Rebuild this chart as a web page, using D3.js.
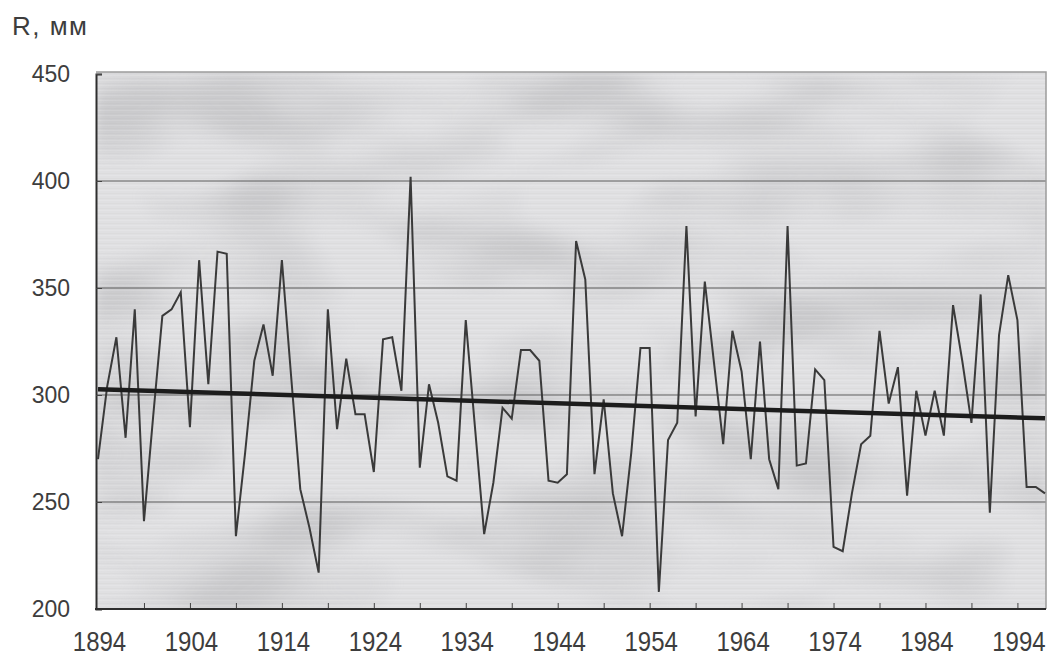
<!DOCTYPE html>
<html>
<head>
<meta charset="utf-8">
<script src="https://cdn.jsdelivr.net/npm/d3@7"></script>
<style>
  html, body { margin: 0; padding: 0; background: #ffffff; }
  svg { display: block; }
  text { font-family: "Liberation Sans", Arial, sans-serif; fill: #3d3d3d; }
</style>
</head>
<body>
<svg id="chart" width="1056" height="661"></svg>
<script>
// Annual precipitation R (mm), 1894–1997
const firstYear = 1894;
const rainfall = [
  270, 304, 327, 280, 340, 241, 290, 337, 340, 348,   // 1894–1903
  285, 363, 305, 367, 366, 234, 273, 316, 333, 309,   // 1904–1913
  363, 309, 256, 238, 217, 340, 284, 317, 291, 291,   // 1914–1923
  264, 326, 327, 302, 402, 266, 305, 287, 262, 260,   // 1924–1933
  335, 285, 235, 259, 294, 289, 321, 321, 316, 260,   // 1934–1943
  259, 263, 372, 354, 263, 298, 254, 234, 273, 322,   // 1944–1953
  322, 208, 279, 287, 379, 290, 353, 315, 277, 330,   // 1954–1963
  311, 270, 325, 270, 256, 379, 267, 268, 312, 307,   // 1964–1973
  229, 227, 254, 277, 281, 330, 296, 313, 253, 302,   // 1974–1983
  281, 302, 281, 342, 316, 287, 347, 245, 328, 356,   // 1984–1993
  335, 257, 257, 254                                  // 1994–1997
];
const years = rainfall.map((_, i) => firstYear + i);

// Linear trend endpoints
const trendYears = [1894, 1997];
const trendValues = [302.7, 289.1];

// Axis ticks and labels
const yTicks = [200, 250, 300, 350, 400, 450];
const yGrid = [250, 300, 350, 400];
const xLabelYears = [1894, 1904, 1914, 1924, 1934, 1944, 1954, 1964, 1974, 1984, 1994];
const xTickYears = [1899, 1904, 1909, 1914, 1919, 1924, 1929, 1934, 1939, 1944, 1949,
                    1954, 1959, 1964, 1969, 1974, 1979, 1984, 1989, 1994];

const svg = d3.select("#chart");
const plot = { left: 96, right: 1046, top: 72, bottom: 609 };

const x = d3.scaleLinear().domain([1894, 1997]).range([98, 1045]);
const y = d3.scaleLinear().domain([200, 450]).range([609, 74]);

const defs = svg.append("defs");

// Blotchy grey shading inside the plot area
const mottle = defs.append("filter").attr("id", "mottle")
  .attr("x", 0).attr("y", 0).attr("width", 1).attr("height", 1)
  .attr("color-interpolation-filters", "sRGB");
mottle.append("feTurbulence")
  .attr("type", "fractalNoise").attr("baseFrequency", "0.006 0.014")
  .attr("numOctaves", 2).attr("seed", 11).attr("result", "noise");
mottle.append("feColorMatrix").attr("in", "noise").attr("type", "matrix")
  .attr("values", "0 0 0 0 0.62  0 0 0 0 0.62  0 0 0 0 0.63  3.2 0 0 0 -1.35");
mottle.append("feGaussianBlur").attr("stdDeviation", 6);

// Fine horizontal streaks
const streaks = defs.append("pattern").attr("id", "streaks")
  .attr("patternUnits", "userSpaceOnUse").attr("width", 1056).attr("height", 5);
streaks.append("rect").attr("x", 0).attr("y", 0).attr("width", 1056).attr("height", 1)
  .attr("fill", "#ffffff").attr("opacity", 0.12);
streaks.append("rect").attr("x", 0).attr("y", 3).attr("width", 1056).attr("height", 1)
  .attr("fill", "#8a8a8a").attr("opacity", 0.05);

defs.append("clipPath").attr("id", "plotClip")
  .append("rect")
  .attr("x", plot.left).attr("y", plot.top)
  .attr("width", plot.right - plot.left).attr("height", plot.bottom - plot.top);

// Plot background
svg.append("rect")
  .attr("x", plot.left).attr("y", plot.top)
  .attr("width", plot.right - plot.left).attr("height", plot.bottom - plot.top)
  .attr("fill", "#e0e0e2");
svg.append("rect")
  .attr("x", plot.left).attr("y", plot.top)
  .attr("width", plot.right - plot.left).attr("height", plot.bottom - plot.top)
  .attr("fill", "#ffffff").attr("filter", "url(#mottle)").attr("opacity", 0.32);
svg.append("rect")
  .attr("x", plot.left).attr("y", plot.top)
  .attr("width", plot.right - plot.left).attr("height", plot.bottom - plot.top)
  .attr("fill", "url(#streaks)");

// Horizontal gridlines
svg.append("g").selectAll("line").data(yGrid).join("line")
  .attr("x1", plot.left).attr("x2", plot.right)
  .attr("y1", d => y(d)).attr("y2", d => y(d))
  .attr("stroke", "#5a5a5a").attr("stroke-width", 1.2);

// Frame: light top and right edges
svg.append("path")
  .attr("d", `M${plot.left},${plot.top}H${plot.right}V${plot.bottom}`)
  .attr("fill", "none").attr("stroke", "#9c9c9c").attr("stroke-width", 1.5);

// Y axis with inward ticks
const yAxis = d3.axisLeft(y).tickValues(yTicks).tickSize(-6).tickPadding(26)
  .tickFormat(d3.format("d"));
const gy = svg.append("g").attr("transform", `translate(${plot.left},0)`).call(yAxis);
gy.select(".domain").attr("stroke", "#2e2e2e").attr("stroke-width", 2);
gy.selectAll(".tick line").attr("stroke", "#444");
gy.selectAll(".tick text").attr("font-size", 23).attr("fill", "#3d3d3d")
  .attr("font-family", "'Liberation Sans', Arial, sans-serif");

// X axis: inward ticks every five years, labels every ten
const xTicksAxis = d3.axisBottom(x).tickValues(xTickYears).tickSize(-6).tickFormat("");
const gxt = svg.append("g").attr("transform", `translate(0,${plot.bottom})`).call(xTicksAxis);
gxt.select(".domain").remove();
gxt.selectAll(".tick line").attr("stroke", "#444");

const xAxis = d3.axisBottom(x).tickValues(xLabelYears).tickSize(0).tickPadding(0)
  .tickFormat(d3.format("d"));
const gx = svg.append("g").attr("transform", `translate(0,${plot.bottom})`).call(xAxis);
gx.select(".domain").remove();
gx.selectAll(".tick text")
  .attr("font-size", 24).attr("fill", "#3d3d3d")
  .attr("font-family", "'Liberation Sans', Arial, sans-serif")
  .attr("dy", null).attr("y", 0)
  .attr("transform", "translate(1,42) scale(1,1.12)");

svg.append("line")
  .attr("x1", plot.left - 1).attr("x2", plot.right)
  .attr("y1", plot.bottom).attr("y2", plot.bottom)
  .attr("stroke", "#2e2e2e").attr("stroke-width", 2);

// Series line
const line = d3.line().x((d, i) => x(years[i])).y(d => y(d));
svg.append("path")
  .datum(rainfall)
  .attr("clip-path", "url(#plotClip)")
  .attr("d", line)
  .attr("fill", "none").attr("stroke", "#3a3a3a").attr("stroke-width", 2)
  .attr("stroke-linejoin", "miter").attr("stroke-miterlimit", 4);

// Trend line
const trendLine = d3.line().x((d, i) => x(trendYears[i])).y(d => y(d));
svg.append("path")
  .datum(trendValues)
  .attr("d", trendLine)
  .attr("fill", "none").attr("stroke", "#1c1c1c").attr("stroke-width", 4.5);

// Axis title
svg.append("text")
  .attr("x", 12).attr("y", 35)
  .attr("font-size", 26).attr("letter-spacing", 1.5)
  .text("R, мм");
</script>
</body>
</html>
